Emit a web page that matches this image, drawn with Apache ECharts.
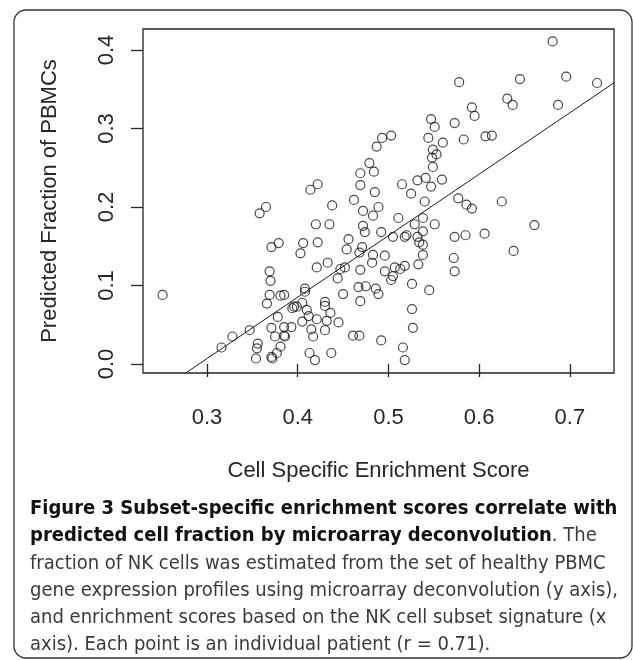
<!DOCTYPE html>
<html>
<head>
<meta charset="utf-8">
<script src="https://cdn.jsdelivr.net/npm/echarts@6/dist/echarts.min.js"></script>
<style>
  html, body { margin: 0; padding: 0; background: #fff; }
  #chart { width: 633px; height: 660px; }
</style>
</head>
<body>
<div id="chart"></div>
<script>
// 每个病人的富集分数 (x) 和反卷积预测的NK细胞比例 (y)
const enrichScore = [
  0.358, 0.365, 0.414, 0.422, 0.438, 0.681, 0.578, 0.645, 0.696, 0.730,
  0.631, 0.637, 0.687, 0.592, 0.595, 0.547, 0.551, 0.573, 0.583, 0.607,
  0.614, 0.544, 0.560, 0.493, 0.503, 0.487, 0.549, 0.553, 0.548, 0.549,
  0.479, 0.469, 0.484, 0.469, 0.485, 0.462, 0.472, 0.483, 0.489, 0.515,
  0.532, 0.541, 0.559, 0.525, 0.547, 0.540, 0.577, 0.586, 0.592, 0.625,
  0.511, 0.538,
  0.251, 0.420, 0.435, 0.371, 0.379, 0.406, 0.403, 0.422, 0.421, 0.433,
  0.447, 0.452, 0.456, 0.454, 0.444, 0.369, 0.370, 0.369, 0.366, 0.381,
  0.385, 0.408, 0.408, 0.450, 0.396, 0.394, 0.399, 0.405, 0.410, 0.412,
  0.421, 0.430, 0.430, 0.432, 0.436, 0.378, 0.445, 0.371, 0.385, 0.393,
  0.375, 0.385, 0.386, 0.405, 0.415, 0.417, 0.430, 0.347, 0.328, 0.316,
  0.356, 0.355, 0.354, 0.371, 0.372, 0.381, 0.377, 0.413, 0.419, 0.437,
  0.661, 0.551, 0.529, 0.472, 0.474, 0.492, 0.471, 0.468, 0.483, 0.496,
  0.505, 0.518, 0.520, 0.532, 0.538, 0.534, 0.538, 0.538, 0.573, 0.585,
  0.606, 0.638, 0.572, 0.573, 0.533, 0.518, 0.513, 0.507, 0.505, 0.503,
  0.496, 0.482, 0.469, 0.526, 0.545, 0.467, 0.475, 0.486, 0.489, 0.469,
  0.526, 0.527, 0.461, 0.468, 0.492, 0.516, 0.518
];
const predictedFraction = [
  0.192, 0.200, 0.222, 0.229, 0.202, 0.411, 0.359, 0.363, 0.366, 0.358,
  0.338, 0.330, 0.330, 0.327, 0.316, 0.312, 0.302, 0.307, 0.286, 0.290,
  0.291, 0.288, 0.282, 0.288, 0.291, 0.277, 0.273, 0.267, 0.263, 0.251,
  0.256, 0.243, 0.245, 0.228, 0.219, 0.209, 0.195, 0.189, 0.200, 0.229,
  0.234, 0.237, 0.235, 0.217, 0.226, 0.207, 0.211, 0.203, 0.198, 0.207,
  0.186, 0.186,
  0.088, 0.178, 0.178, 0.149, 0.154, 0.154, 0.141, 0.155, 0.123, 0.129,
  0.121, 0.123, 0.159, 0.146, 0.109, 0.118, 0.106, 0.088, 0.077, 0.087,
  0.088, 0.096, 0.092, 0.089, 0.073, 0.071, 0.073, 0.078, 0.069, 0.061,
  0.057, 0.079, 0.074, 0.055, 0.065, 0.060, 0.053, 0.046, 0.047, 0.047,
  0.035, 0.036, 0.035, 0.054, 0.044, 0.035, 0.043, 0.043, 0.035, 0.021,
  0.026, 0.020, 0.007, 0.009, 0.007, 0.022, 0.014, 0.014, 0.005, 0.014,
  0.177, 0.178, 0.178, 0.176, 0.168, 0.168, 0.149, 0.142, 0.139, 0.138,
  0.162, 0.162, 0.164, 0.162, 0.169, 0.155, 0.152, 0.139, 0.162, 0.164,
  0.166, 0.144, 0.135, 0.118, 0.127, 0.125, 0.121, 0.123, 0.112, 0.107,
  0.118, 0.129, 0.120, 0.102, 0.094, 0.098, 0.099, 0.096, 0.089, 0.080,
  0.070, 0.046, 0.036, 0.036, 0.030, 0.021, 0.005
];

// 坐标轴刻度
const xTicks = [0.3, 0.4, 0.5, 0.6, 0.7];
const yTicks = [0.0, 0.1, 0.2, 0.3, 0.4];
const xRange = [0.2294, 0.7487];
const yRange = [-0.0115, 0.4268];

// 回归直线
const fitSlope = 0.783;
const fitIntercept = -0.228;

// 图注文字
const captionBold1 = 'Figure 3 Subset-specific enrichment scores correlate with';
const captionBold2 = 'predicted cell fraction by microarray deconvolution';
const captionTail2 = '. The';
const captionLines = [
  'fraction of NK cells was estimated from the set of healthy PBMC',
  'gene expression profiles using microarray deconvolution (y axis),',
  'and enrichment scores based on the NK cell subset signature (x',
  'axis). Each point is an individual patient (r = 0.71).'
];

const chart = echarts.init(document.getElementById('chart'));

const axisFont = 'Liberation Sans, Arial, sans-serif';
const captionFont = '"Liberation Sans Narrow", "DejaVu Sans Condensed", "Open Sans", sans-serif';
const ink = '#262626';

const points = enrichScore.map((x, i) => [x, predictedFraction[i]]);
const fitLine = xRange.map(x => [x, fitSlope * x + fitIntercept]);

// 图注
const captionGraphics = [
  {
    type: 'text', left: 30, top: 499,
    style: { text: captionBold1, font: 'bold 20px ' + captionFont, fill: '#111' }
  },
  {
    type: 'text', left: 30, top: 526,
    style: {
      text: '{b|' + captionBold2 + '}{r|' + captionTail2 + '}',
      rich: {
        b: { font: 'bold 20px ' + captionFont, fill: '#111' },
        r: { font: '20px ' + captionFont, fill: '#3a3a3a' }
      }
    }
  }
];
captionLines.forEach((line, i) => {
  captionGraphics.push({
    type: 'text', left: 30, top: 554 + i * 27,
    style: { text: line, font: '20px ' + captionFont, fill: '#3a3a3a' }
  });
});

const option = {
  animation: false,
  backgroundColor: '#fff',
  grid: {
    left: 143, top: 29, width: 471, height: 344,
    show: true, borderColor: ink, borderWidth: 1.3, backgroundColor: 'transparent'
  },
  xAxis: {
    type: 'value',
    min: xRange[0], max: xRange[1],
    name: 'Cell Specific Enrichment Score',
    nameLocation: 'middle', nameGap: 87,
    nameTextStyle: { fontFamily: axisFont, fontSize: 22, color: ink },
    axisLine: { show: false },
    splitLine: { show: false },
    axisTick: { show: true, customValues: xTicks, length: 13, lineStyle: { color: ink, width: 1.3 } },
    axisLabel: {
      customValues: xTicks, margin: 34,
      fontFamily: axisFont, fontSize: 22, color: ink,
      formatter: v => v.toFixed(1)
    }
  },
  yAxis: {
    type: 'value',
    min: yRange[0], max: yRange[1],
    name: 'Predicted Fraction of PBMCs',
    nameLocation: 'middle', nameGap: 82,
    nameTextStyle: { fontFamily: axisFont, fontSize: 22, color: ink },
    axisLine: { show: false },
    splitLine: { show: false },
    axisTick: { show: true, customValues: yTicks, length: 12, lineStyle: { color: ink, width: 1.3 } },
    axisLabel: {
      customValues: yTicks, margin: 25, rotate: 90,
      fontFamily: axisFont, fontSize: 22, color: ink,
      formatter: v => v.toFixed(1)
    }
  },
  series: [
    {
      type: 'scatter',
      data: points,
      symbol: 'circle',
      symbolSize: 9,
      itemStyle: { color: 'rgba(0,0,0,0)', borderColor: '#1a1a1a', borderWidth: 1.2 },
      emphasis: { disabled: true }
    },
    {
      type: 'line',
      data: fitLine,
      showSymbol: false,
      clip: true,
      lineStyle: { color: '#1a1a1a', width: 1 },
      emphasis: { disabled: true }
    }
  ],
  graphic: [
    {
      type: 'rect',
      shape: { x: 14, y: 10, width: 618, height: 648, r: 12 },
      style: { fill: 'none', stroke: '#333', lineWidth: 1.3 },
      silent: true
    }
  ].concat(captionGraphics)
};

chart.setOption(option);
</script>
</body>
</html>
